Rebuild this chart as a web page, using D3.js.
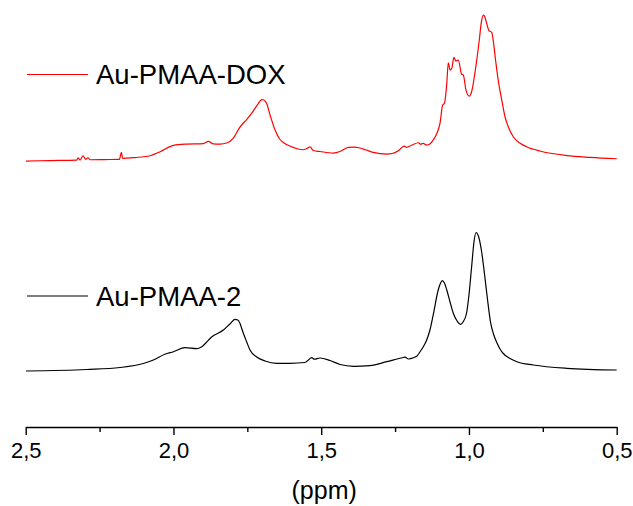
<!DOCTYPE html>
<html>
<head>
<meta charset="utf-8">
<script src="https://cdn.jsdelivr.net/npm/d3@7"></script>
<style>
  html, body { margin: 0; padding: 0; background: #fff; }
  svg { display: block; font-family: "Liberation Sans", Arial, sans-serif; }
</style>
</head>
<body>
<svg id="chart" width="633" height="506"></svg>
<script>
// ---- Data (chemical shift in ppm, relative intensity) ----
const seriesNames = ["Au-PMAA-DOX", "Au-PMAA-2"];
const seriesColors = ["#ff0000", "#000000"];
const seriesOffsets = [190, 40];

const doxPpm = [2.499,2.418,2.327,2.323,2.316,2.306,2.297,2.289,2.282,2.232,2.183,2.176,2.172,2.130,2.079,2.045,2.000,1.955,1.899,1.882,1.866,1.842,1.820,1.798,1.775,1.751,1.730,1.714,1.701,1.694,1.684,1.673,1.656,1.643,1.628,1.606,1.561,1.545,1.538,1.527,1.504,1.459,1.436,1.408,1.386,1.369,1.348,1.324,1.278,1.260,1.239,1.219,1.211,1.193,1.171,1.163,1.155,1.143,1.132,1.121,1.108,1.098,1.089,1.083,1.075,1.070,1.064,1.058,1.051,1.044,1.036,1.025,1.019,1.010,0.999,0.991,0.980,0.965,0.958,0.951,0.946,0.940,0.932,0.923,0.918,0.910,0.901,0.889,0.878,0.867,0.850,0.827,0.805,0.760,0.669,0.590,0.500];
const doxInt = [-2.26,-1.91,-1.55,0.07,-1.55,1.48,-1.06,0.07,-1.34,-1.20,-1.06,3.88,-0.35,0.21,1.48,4.31,8.82,9.74,10.09,11.65,9.88,9.74,10.45,13.77,21.74,27.39,33.04,37.98,41.15,40.80,37.98,30.21,19.62,13.98,10.80,8.33,5.72,6.92,7.84,5.15,4.45,3.39,4.45,7.41,7.62,6.92,5.51,3.88,2.68,3.04,5.01,8.33,7.41,9.04,10.66,9.53,10.24,9.04,9.74,12.57,17.51,24.35,37.27,38.47,52.59,67.13,61.98,63.18,70.94,68.33,69.04,59.15,58.45,47.86,43.62,46.66,59.65,83.15,95.86,100.80,99.39,94.94,89.72,88.59,83.15,69.04,54.88,40.80,29.01,21.95,14.89,10.24,7.84,4.80,1.62,0.35,-0.64];

const pmaaPpm = [2.499,2.294,2.181,2.102,2.068,2.029,2.000,1.961,1.921,1.904,1.871,1.831,1.809,1.792,1.782,1.775,1.765,1.752,1.741,1.718,1.690,1.651,1.606,1.555,1.532,1.523,1.504,1.470,1.436,1.391,1.335,1.278,1.222,1.216,1.205,1.199,1.177,1.166,1.155,1.143,1.132,1.121,1.104,1.096,1.090,1.083,1.075,1.064,1.053,1.040,1.029,1.020,1.008,1.000,0.991,0.983,0.976,0.968,0.958,0.947,0.937,0.927,0.917,0.905,0.895,0.884,0.861,0.838,0.782,0.669,0.500];
const pmaaInt = [-0.47,0.59,2.00,4.82,7.29,11.32,13.15,15.97,15.27,16.68,23.53,28.47,32.70,36.02,35.53,33.20,27.06,20.00,14.35,9.41,6.59,4.96,4.96,5.53,8.92,7.86,8.70,6.94,4.12,2.84,3.27,6.09,9.06,9.27,8.00,8.21,9.90,12.94,16.47,21.41,28.47,39.06,56.71,61.65,63.27,61.65,56.71,48.23,40.26,34.82,32.49,34.12,40.47,53.18,72.94,90.59,97.30,94.82,84.94,67.29,49.65,34.10,25.65,19.29,15.06,11.88,8.35,6.09,3.76,1.43,0.23];

const majorTicks = [2.5, 2.0, 1.5, 1.0, 0.5];
const minorTicks = [2.25, 1.75, 1.25, 0.75];
const xTitle = "(ppm)";

// ---- Chart ----
const svg = d3.select("#chart");
const x = d3.scaleLinear().domain([2.5, 0.5]).range([25.7, 616.7]);
const y = d3.scaleLinear().domain([0, 300]).range([427, 2]);

const series = [
  { name: seriesNames[0], color: seriesColors[0], offset: seriesOffsets[0], ppm: doxPpm, val: doxInt },
  { name: seriesNames[1], color: seriesColors[1], offset: seriesOffsets[1], ppm: pmaaPpm, val: pmaaInt }
];

const line = d3.line()
  .x(d => x(d[0]))
  .y(d => y(d[1]))
  .curve(d3.curveMonotoneX);

series.forEach(s => {
  const pts = s.ppm.map((p, i) => [p, s.val[i] + s.offset]);
  svg.append("path")
    .attr("d", line(pts))
    .attr("fill", "none")
    .attr("stroke", s.color)
    .attr("stroke-width", 1.2)
    .attr("stroke-linejoin", "round");
});

// Legends
const legendPos = [{ ly: 74.5, ty: 84 }, { ly: 296, ty: 305.5 }];
series.forEach((s, i) => {
  const g = svg.append("g");
  g.append("line")
    .attr("x1", 27).attr("x2", 88)
    .attr("y1", legendPos[i].ly).attr("y2", legendPos[i].ly)
    .attr("stroke", s.color).attr("stroke-width", 1.2);
  g.append("text")
    .attr("x", 96).attr("y", legendPos[i].ty)
    .attr("font-size", "27.5px")
    .attr("fill", "#000")
    .text(s.name);
});

// Axis
const fmt = d => d3.format(".1f")(d).replace(".", ",");
const axisG = svg.append("g").attr("transform", "translate(0,427)");
axisG.call(d3.axisBottom(x).tickValues(majorTicks).tickSize(8).tickSizeOuter(0).tickPadding(7).tickFormat(fmt));
axisG.select(".domain").attr("stroke-width", 1.6).attr("stroke", "#000");
axisG.selectAll(".tick line").attr("stroke-width", 1.4).attr("stroke", "#000");
axisG.selectAll(".tick text")
  .attr("font-size", "22px")
  .attr("font-family", "'Liberation Sans', Arial, sans-serif")
  .attr("fill", "#000");

const minorG = svg.append("g").attr("transform", "translate(0,427)");
minorG.call(d3.axisBottom(x).tickValues(minorTicks).tickSize(5).tickSizeOuter(0).tickFormat(""));
minorG.select(".domain").remove();
minorG.selectAll(".tick line").attr("stroke-width", 1.4).attr("stroke", "#000");

svg.append("text")
  .attr("x", (x.range()[0] + x.range()[1]) / 2 + 3)
  .attr("y", 499)
  .attr("text-anchor", "middle")
  .attr("font-size", "25px")
  .attr("fill", "#000")
  .text(xTitle);
</script>
</body>
</html>
